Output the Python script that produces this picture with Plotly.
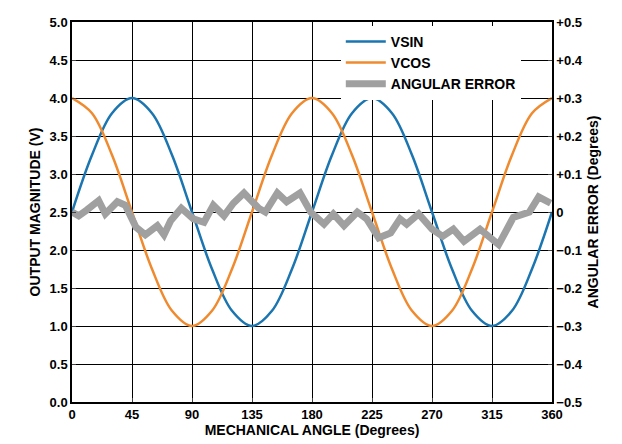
import plotly.graph_objects as go

# mechanical angle (deg) for the two output signals
angle = list(range(0, 361, 15))
vsin = [2.5, 3.25, 3.8, 4.0, 3.8, 3.25, 2.5, 1.75, 1.2, 1.0, 1.2, 1.75,
        2.5, 3.25, 3.8, 4.0, 3.8, 3.25, 2.5, 1.75, 1.2, 1.0, 1.2, 1.75, 2.5]
vcos = [4.0, 3.8, 3.25, 2.5, 1.75, 1.2, 1.0, 1.2, 1.75, 2.5, 3.25, 3.8,
        4.0, 3.8, 3.25, 2.5, 1.75, 1.2, 1.0, 1.2, 1.75, 2.5, 3.25, 3.8, 4.0]

# angular error (degrees)
err_angle = [0, 5, 11, 20, 25, 34, 40, 48, 55, 64, 69, 74, 82, 91, 99, 106, 114, 121,
             129, 140, 145, 154, 161, 171, 179, 189, 196, 204, 214, 221, 230, 239,
             246, 251, 260, 270, 278, 286, 294, 306, 320, 331, 343, 350, 359]
err = [0.0, -0.01, 0.005, 0.03, -0.005, 0.027, 0.018, -0.04, -0.06, -0.036, -0.06,
       -0.023, 0.01, -0.018, -0.027, 0.018, -0.01, 0.023, 0.05, 0.01, 0.0, 0.05, 0.027,
       0.05, 0.0, -0.032, -0.005, -0.036, 0.0, -0.018, -0.068, -0.055, -0.018, -0.032,
       -0.005, -0.045, -0.064, -0.045, -0.077, -0.045, -0.086, -0.014, 0.0, 0.04, 0.023]

font = "Liberation Sans, Arial, sans-serif"

fig = go.Figure()
fig.add_trace(go.Scatter(x=angle, y=vsin, name="VSIN", mode="lines",
                         line=dict(color="#1a75b0", width=2.5, shape="spline")))
fig.add_trace(go.Scatter(x=angle, y=vcos, name="VCOS", mode="lines",
                         line=dict(color="#f08a2e", width=2.5, shape="spline")))
fig.add_trace(go.Scatter(x=err_angle, y=err, name="ANGULAR ERROR", mode="lines",
                         yaxis="y2", line=dict(color="#a0a0a0", width=7)))

fig.update_layout(
    width=622, height=444,
    margin=dict(l=64, r=78, t=14, b=50),
    plot_bgcolor="white", paper_bgcolor="white",
    font=dict(family=font, size=13, color="black"),
    showlegend=True,
    legend=dict(x=0.56, y=0.99, xanchor="left", yanchor="top",
                bgcolor="white", font=dict(size=14, family=font, weight="bold"),
                tracegroupgap=0, itemwidth=40),
    xaxis=dict(range=[0, 360], tickvals=list(range(0, 361, 45)), automargin=False,
               showgrid=True, gridcolor="black", gridwidth=1,
               showline=True, linecolor="black", mirror=True, linewidth=1.5,
               ticks="inside", ticklen=4, zeroline=False,
               tickfont=dict(weight="bold"),
               title=dict(text="MECHANICAL ANGLE (Degrees)", font=dict(weight="bold", size=14), standoff=4)),
    yaxis=dict(range=[0, 5], dtick=0.5, tickformat=".1f", automargin=False,
               showgrid=True, gridcolor="black", gridwidth=1,
               showline=True, linecolor="black", linewidth=1.5,
               ticks="inside", ticklen=4, zeroline=False,
               tickfont=dict(weight="bold"),
               title=dict(text="OUTPUT MAGNITUDE (V)", font=dict(weight="bold", size=14), standoff=6)),
    yaxis2=dict(range=[-0.5, 0.5], overlaying="y", side="right", automargin=False,
                tickvals=[-0.5, -0.4, -0.3, -0.2, -0.1, 0, 0.1, 0.2, 0.3, 0.4, 0.5],
                ticktext=["−0.5", "−0.4", "−0.3", "−0.2", "−0.1", "0",
                          "+0.1", "+0.2", "+0.3", "+0.4", "+0.5"],
                showgrid=False, showline=True, linecolor="black", linewidth=1.5,
                ticks="inside", ticklen=4, zeroline=False,
                tickfont=dict(weight="bold"),
                title=dict(text="ANGULAR ERROR (Degrees)", font=dict(weight="bold", size=14), standoff=6)),
)

fig.write_html("out.html")
